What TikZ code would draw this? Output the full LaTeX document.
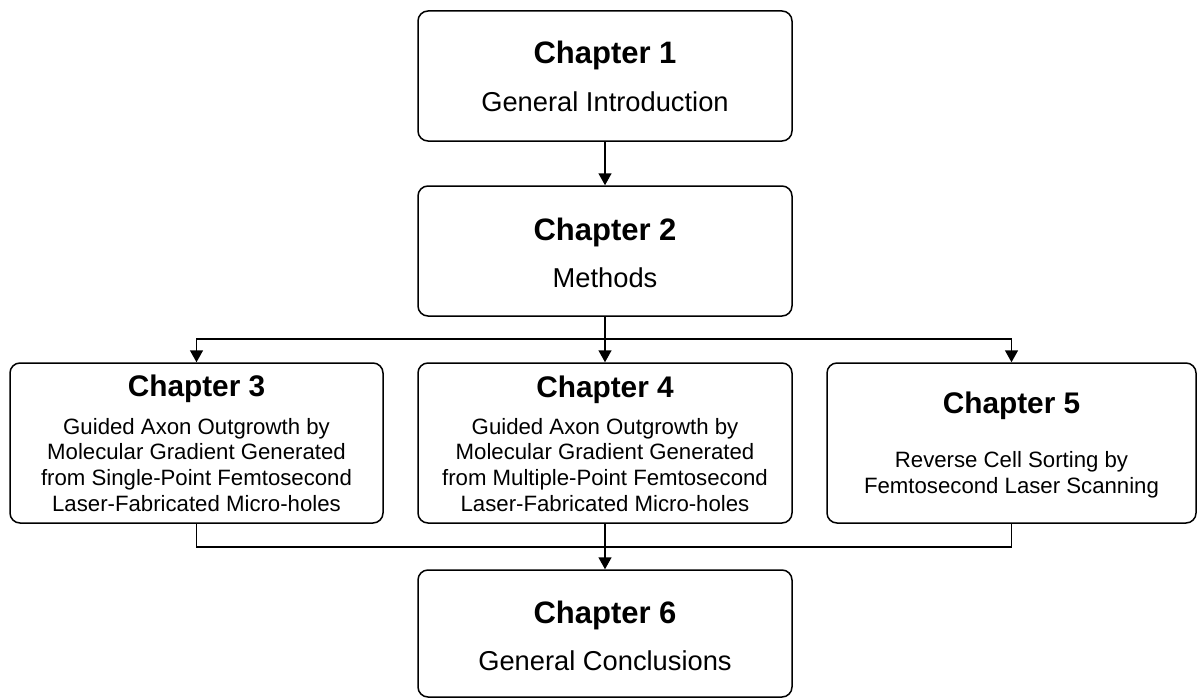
\documentclass[tikz,border=0pt]{standalone}
\usepackage{fontspec}
\setmainfont{Liberation Sans}
\usetikzlibrary{arrows.meta}
\begin{document}
\begin{tikzpicture}[x=1pt,y=-1pt,
  box/.style={draw=black, line width=1.5pt, rounded corners=10pt, fill=white, inner sep=0pt},
  ttlA/.style={font=\fontsize{31}{36}\selectfont\bfseries, inner sep=0pt, anchor=base},
  ttlB/.style={font=\fontsize{29.8}{34}\selectfont\bfseries, inner sep=0pt, anchor=base},
  subA/.style={font=\fontsize{27.3}{32}\selectfont, inner sep=0pt, anchor=base},
  body/.style={font=\fontsize{22.2}{25.8}\selectfont, align=center, inner sep=0pt, anchor=base},
  arr/.style={line width=1.5pt, -{Triangle[length=12pt,width=13pt]}},
  ln/.style={line width=1.5pt}
]
\useasboundingbox (0,0) rectangle (1198,698);
% boxes
\node[box, minimum width=374pt, minimum height=130pt] (c1) at (605,76) {};
\node[box, minimum width=374pt, minimum height=130pt] (c2) at (605,251) {};
\node[box, minimum width=373pt, minimum height=160pt] (c3) at (196.5,443) {};
\node[box, minimum width=374pt, minimum height=160pt] (c4) at (605,443) {};
\node[box, minimum width=369pt, minimum height=160pt] (c5) at (1011.5,443) {};
\node[box, minimum width=374pt, minimum height=127pt] (c6) at (605,633.5) {};
% texts
\node[ttlA] (t1) at (605,64) {Chapter 1};
\node[subA] (s1) at (605,111) {General Introduction};
\node[ttlA] (t2) at (605,240) {Chapter 2};
\node[subA] (s2) at (605,287) {Methods};
\node[ttlB] (t3) at (196.5,396) {Chapter 3};
\node[body] (b3) at (196.5,511.5) {Guided Axon Outgrowth by\\Molecular Gradient Generated\\from Single-Point Femtosecond\\Laser-Fabricated Micro-holes};
\node[ttlB] (t4) at (605,397) {Chapter 4};
\node[body] (b4) at (605,511.5) {Guided Axon Outgrowth by\\Molecular Gradient Generated\\from Multiple-Point Femtosecond\\Laser-Fabricated Micro-holes};
\node[ttlB] (t5) at (1011.5,413) {Chapter 5};
\node[body] (b5) at (1011.5,493) {Reverse Cell Sorting by\\Femtosecond Laser Scanning};
\node[ttlA] (t6) at (605,623) {Chapter 6};
\node[subA] (s6) at (605,670) {General Conclusions};
% connectors
\coordinate (split) at (605,339);
\coordinate (merge) at (605,547);
\draw[arr] (c1.south) -- (c2.north);
\draw[arr] (c2.south) -- (c4.north);
\draw[arr] (split) -| (c3.north);
\draw[arr] (split) -| (c5.north);
\draw[ln] (c3.south) |- (merge);
\draw[ln] (c5.south) |- (merge);
\draw[arr] (c4.south) -- (c6.north);
\end{tikzpicture}
\end{document}
